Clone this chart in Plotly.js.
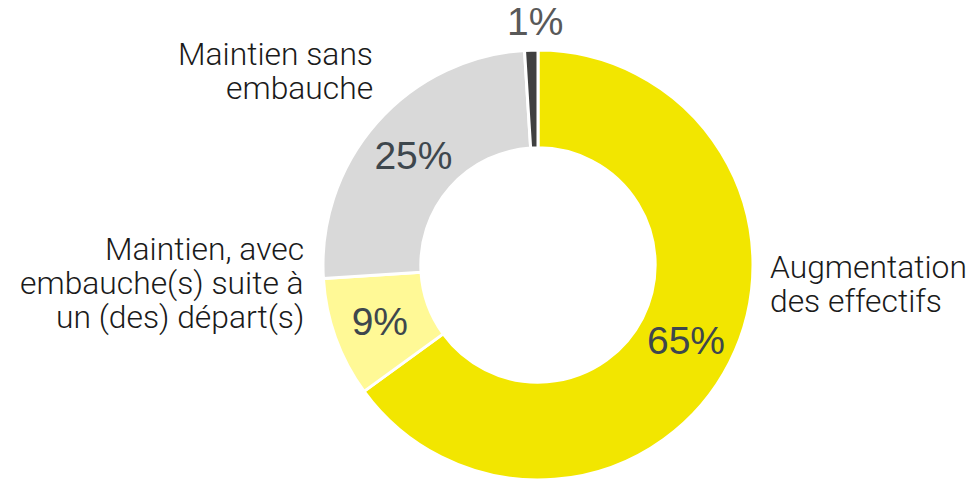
<!DOCTYPE html>
<html>
<head>
<meta charset="utf-8">
<script src="https://cdn.plot.ly/plotly-3.0.1.min.js"></script>
<style>html,body{margin:0;padding:0;background:#fff;}#chart{width:972px;height:480px;}</style>
</head>
<body>
<div id="chart"></div>
<script>
// Data
var categories = ["Augmentation des effectifs", "Maintien, avec embauche(s) suite à un (des) départ(s)", "Maintien sans embauche", "Autre"];
var values = [65, 9, 25, 1];
var sliceColors = ["#F2E600", "#FFF996", "#D9D9D9", "#404040"];
// Label lines (as displayed outside the donut)
var labelLines = [
  ["Augmentation", "des effectifs"],
  ["Maintien, avec", "embauche(s) suite à", "un (des) départ(s)"],
  ["Maintien sans", "embauche"]
];

var W = 972, H = 480;
function px(x) { return x / W; }
function py(y) { return 1 - y / H; }

// label layout: [x anchor px, first line center px, xanchor]
var labelPos = [
  [768, 266.5, "left"],
  [306, 249, "right"],
  [375, 54.5, "right"]
];
var lineGap = 34;
var annotations = [];
labelLines.forEach(function (lines, i) {
  var p = labelPos[i];
  lines.forEach(function (t, j) {
    annotations.push({
      text: t, showarrow: false, xref: "paper", yref: "paper",
      x: px(p[0]), y: py(p[1] + j * lineGap), xanchor: p[2], yanchor: "middle",
      font: { family: "Roboto Light, Roboto", size: 31.8, color: "#1a1a1a", weight: 300 }
    });
  });
});
// small slice value shown above the ring
annotations.push({
  text: values[3] + "%", showarrow: false, xref: "paper", yref: "paper",
  x: px(535), y: py(22), xanchor: "center", yanchor: "middle",
  font: { family: "Liberation Sans, Arial", size: 39, color: "#595959" }
});

var trace = {
  type: "pie",
  labels: categories,
  values: values,
  hole: 0.545,
  sort: false,
  direction: "clockwise",
  rotation: 0,
  marker: { colors: sliceColors, line: { color: "#ffffff", width: 3 } },
  textinfo: "percent",
  texttemplate: "%{value}%",
  textposition: ["inside", "inside", "inside", "none"],
  insidetextorientation: "horizontal",
  insidetextfont: { family: "Liberation Sans, Arial", size: 39, color: "#3E474D" },
  domain: { x: [322 / W, 754 / W], y: [0, 430 / H] },
  showlegend: false,
  hoverinfo: "label+percent"
};

var layout = {
  width: W, height: H,
  margin: { l: 0, r: 0, t: 0, b: 0 },
  paper_bgcolor: "#ffffff",
  showlegend: false,
  annotations: annotations
};

Plotly.newPlot("chart", [trace], layout, { displayModeBar: false, staticPlot: true });
</script>
</body>
</html>
